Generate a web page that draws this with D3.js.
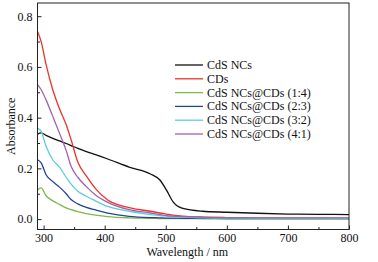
<!DOCTYPE html>
<html>
<head>
<meta charset="utf-8">
<script src="https://cdn.jsdelivr.net/npm/d3@7"></script>
<style>
  body { margin: 0; background: #fff; }
</style>
</head>
<body>
<svg id="drawing_region"></svg>
<script>
// wavelength grid (nm)
const wavelengths = [290, 296, 304, 315, 326, 337, 345, 356, 370, 385, 405, 440, 475, 490, 501, 512, 528, 560, 600, 650, 700, 750, 800];

const cdsNCs   = [0.335, 0.340, 0.330, 0.318, 0.308, 0.298, 0.290, 0.279, 0.266, 0.254, 0.237, 0.205, 0.178, 0.155, 0.115, 0.068, 0.042, 0.031, 0.027, 0.023, 0.020, 0.019, 0.018];
const cds      = [0.740, 0.700, 0.610, 0.510, 0.435, 0.372, 0.313, 0.225, 0.170, 0.120, 0.075, 0.045, 0.031, 0.024, 0.020, 0.016, 0.012, 0.008, 0.006, 0.005, 0.004, 0.004, 0.003];
const ratio14  = [0.116, 0.123, 0.092, 0.072, 0.058, 0.044, 0.037, 0.029, 0.022, 0.016, 0.010, 0.005, 0.003, 0.002, 0.002, 0.002, 0.002, 0.001, 0.001, 0.001, 0.001, 0.001, 0.001];
const ratio23  = [0.234, 0.222, 0.175, 0.148, 0.126, 0.100, 0.077, 0.060, 0.046, 0.036, 0.024, 0.011, 0.006, 0.005, 0.004, 0.004, 0.003, 0.003, 0.002, 0.002, 0.002, 0.002, 0.002];
const ratio32  = [0.359, 0.346, 0.287, 0.234, 0.205, 0.165, 0.138, 0.110, 0.090, 0.072, 0.050, 0.031, 0.018, 0.014, 0.012, 0.010, 0.008, 0.005, 0.004, 0.003, 0.003, 0.003, 0.003];
const ratio41  = [0.530, 0.510, 0.470, 0.405, 0.339, 0.270, 0.208, 0.165, 0.128, 0.095, 0.066, 0.037, 0.024, 0.018, 0.014, 0.012, 0.010, 0.008, 0.006, 0.005, 0.005, 0.005, 0.005];

const seriesNames = ["CdS NCs", "CDs", "CdS NCs@CDs (1:4)", "CdS NCs@CDs (2:3)", "CdS NCs@CDs (3:2)", "CdS NCs@CDs (4:1)"];
const seriesValues = [cdsNCs, cds, ratio14, ratio23, ratio32, ratio41];
const colors = ["#111111", "#e8352c", "#7cba4a", "#23449a", "#5fcbdc", "#a261ac"];

const xTicks = [300, 400, 500, 600, 700, 800];
const yTicks = [0.0, 0.2, 0.4, 0.6, 0.8];

const FONT = 'Liberation Serif';

const width = 378, height = 262;
const margin = {top: 3, right: 29, bottom: 32.5, left: 37.5};
const innerW = width - margin.left - margin.right;
const innerH = height - margin.top - margin.bottom;

const svg = d3.select('#drawing_region')
    .attr('width', width)
    .attr('height', height)
    .attr('font-family', FONT);

const chart = svg.append('g')
    .attr('transform', `translate(${margin.left}, ${margin.top})`);

const xscale = d3.scaleLinear().domain([290, 800]).range([0, innerW]);
const yscale = d3.scaleLinear().domain([-0.041, 0.852]).range([innerH, 0]);

// curves
const line = d3.line()
    .x(d => xscale(d[0]))
    .y(d => yscale(d[1]))
    .curve(d3.curveMonotoneX);

seriesValues.forEach((vals, i) => {
    chart.append('path')
        .datum(wavelengths.map((w, j) => [w, vals[j]]))
        .attr('fill', 'none')
        .attr('stroke', colors[i])
        .attr('stroke-width', 1.3)
        .attr('d', line);
});

// axes with inward ticks
const xaxis = d3.axisBottom(xscale).tickValues(xTicks).tickSize(-4).tickSizeOuter(0).tickPadding(3.5).tickFormat(d3.format('d'));
const xminor = d3.axisBottom(xscale).tickValues([350, 450, 550, 650, 750]).tickSize(-2.5).tickSizeOuter(0).tickFormat('');
const yaxis = d3.axisLeft(yscale).tickValues(yTicks).tickSize(-4).tickSizeOuter(0).tickPadding(5).tickFormat(d3.format('.1f'));
const yminor = d3.axisLeft(yscale).tickValues([0.1, 0.3, 0.5, 0.7]).tickSize(-2.5).tickSizeOuter(0).tickFormat('');

[xaxis, xminor].forEach(a => {
    chart.append('g').attr('transform', `translate(0, ${innerH})`).call(a);
});
[yaxis, yminor].forEach(a => {
    chart.append('g').call(a);
});

chart.selectAll('.domain').remove();
chart.selectAll('.tick line').attr('stroke', '#222');
chart.selectAll('g').attr('font-family', FONT);
chart.selectAll('.tick text').attr('font-size', 12).attr('fill', '#111');

// frame
chart.append('rect')
    .attr('width', innerW)
    .attr('height', innerH)
    .attr('fill', 'none')
    .attr('stroke', '#222')
    .attr('stroke-width', 1);

// axis labels
svg.append('text')
    .attr('x', margin.left + innerW / 2 - 6)
    .attr('y', 256)
    .attr('text-anchor', 'middle')
    .attr('font-size', 12)
    .attr('fill', '#111')
    .text('Wavelength / nm');

svg.append('text')
    .attr('transform', `translate(15, ${margin.top + innerH / 2 + 10}) rotate(-90)`)
    .attr('text-anchor', 'middle')
    .attr('font-size', 12)
    .attr('fill', '#111')
    .text('Absorbance');

// legend
const legend = svg.append('g').attr('transform', 'translate(175, 65)');
seriesNames.forEach((name, i) => {
    const g = legend.append('g').attr('transform', `translate(0, ${i * 13.8})`);
    g.append('line')
        .attr('x1', 0).attr('x2', 28)
        .attr('stroke', colors[i])
        .attr('stroke-width', 1.3);
    g.append('text')
        .attr('x', 32)
        .attr('y', 4)
        .attr('font-size', 12)
        .attr('fill', '#111')
        .text(name);
});
</script>
</body>
</html>
